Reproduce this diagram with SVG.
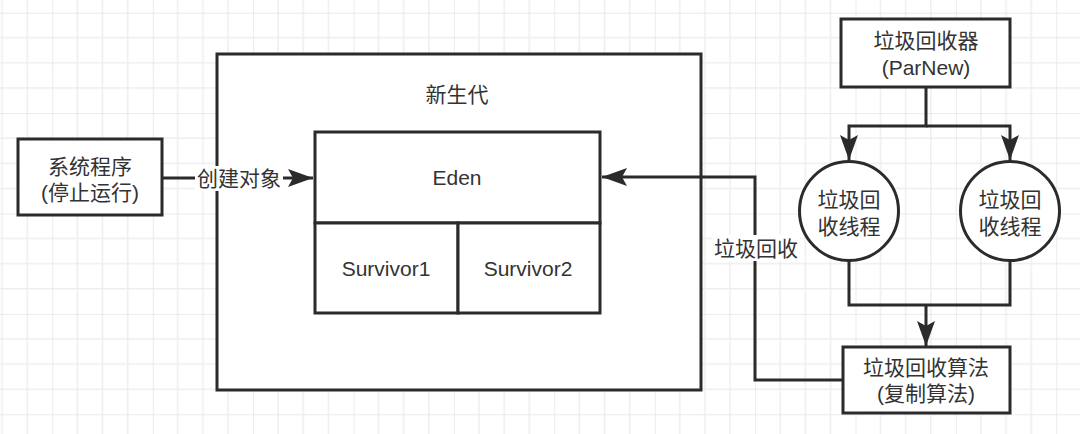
<svg xmlns="http://www.w3.org/2000/svg" width="1080" height="434" viewBox="0 0 1080 434">
  <style>
    .box { fill: #ffffff; stroke: #2b2b2b; stroke-width: 3; }
    .line { fill: none; stroke: #2b2b2b; stroke-width: 3; }
    .t { font-family: "Liberation Sans", "Noto Sans CJK SC", sans-serif; font-size: 21px; fill: #333333; text-anchor: middle; dominant-baseline: central; }
    .lbl { fill: #ffffff; }
  </style>
  <defs>
    <pattern id="grid" patternUnits="userSpaceOnUse" x="52.3" y="12.7" width="100.4" height="100.4">
      <path d="M25.1,0V100.4M50.2,0V100.4M75.3,0V100.4M0,25.1H100.4M0,50.2H100.4M0,75.3H100.4" stroke="#eeeeee" stroke-width="1.5" fill="none"/>
      <path d="M0,0V100.4M0,0H100.4" stroke="#e5e5e5" stroke-width="1.5" fill="none"/>
    </pattern>
    <marker id="arr" markerUnits="userSpaceOnUse" markerWidth="28" markerHeight="20" refX="25" refY="9" orient="auto">
      <path d="M0,0 L25,9 L0,18 L5,9 Z" fill="#2b2b2b"/>
    </marker>
  </defs>
  <rect width="1080" height="434" fill="#ffffff"/>
  <rect width="1080" height="434" fill="url(#grid)"/>

  <g id="young-gen">
    <rect class="box" x="217" y="54" width="484" height="336"/>
    <text class="t" x="457" y="94">新生代</text>
  </g>

  <g id="system">
    <rect class="box" x="18" y="139" width="144" height="76"/>
    <text class="t" x="90" y="166">系统程序</text>
    <text class="t" x="90" y="192">(停止运行)</text>
  </g>

  <g id="eden">
    <rect class="box" x="315" y="132" width="285" height="91"/>
    <text class="t" x="457" y="177">Eden</text>
  </g>
  <g id="survivor1">
    <rect class="box" x="315" y="223" width="143" height="90"/>
    <text class="t" x="386" y="268">Survivor1</text>
  </g>
  <g id="survivor2">
    <rect class="box" x="458" y="223" width="142" height="90"/>
    <text class="t" x="528" y="268">Survivor2</text>
  </g>

  <g id="collector">
    <rect class="box" x="841" y="19" width="169" height="68"/>
    <text class="t" x="926" y="40">垃圾回收器</text>
    <text class="t" x="926" y="67">(ParNew)</text>
  </g>

  <g id="thread1">
    <circle class="box" cx="849" cy="211" r="49.5"/>
    <text class="t" x="849" y="199">垃圾回</text>
    <text class="t" x="849" y="226">收线程</text>
  </g>
  <g id="thread2">
    <circle class="box" cx="1010" cy="211" r="49.5"/>
    <text class="t" x="1010" y="199">垃圾回</text>
    <text class="t" x="1010" y="226">收线程</text>
  </g>

  <g id="algorithm">
    <rect class="box" x="843" y="347" width="167" height="66"/>
    <text class="t" x="926" y="367">垃圾回收算法</text>
    <text class="t" x="926" y="393">(复制算法)</text>
  </g>

  <g id="connectors">
    <path class="line" d="M162,178 H313" marker-end="url(#arr)"/>
    <rect class="lbl" x="195" y="166" width="88" height="25"/>
    <text class="t" x="239" y="178">创建对象</text>

    <path class="line" d="M843,380 H755 V177 H602" marker-end="url(#arr)"/>
    <rect class="lbl" x="712" y="235" width="88" height="26"/>
    <text class="t" x="756" y="248">垃圾回收</text>

    <path class="line" d="M926,87 V126 H849 V160" marker-end="url(#arr)"/>
    <path class="line" d="M926,126 H1010 V160" marker-end="url(#arr)"/>

    <path class="line" d="M849,260.5 V305 H1010 V260.5"/>
    <path class="line" d="M926,305 V346" marker-end="url(#arr)"/>
  </g>
</svg>
